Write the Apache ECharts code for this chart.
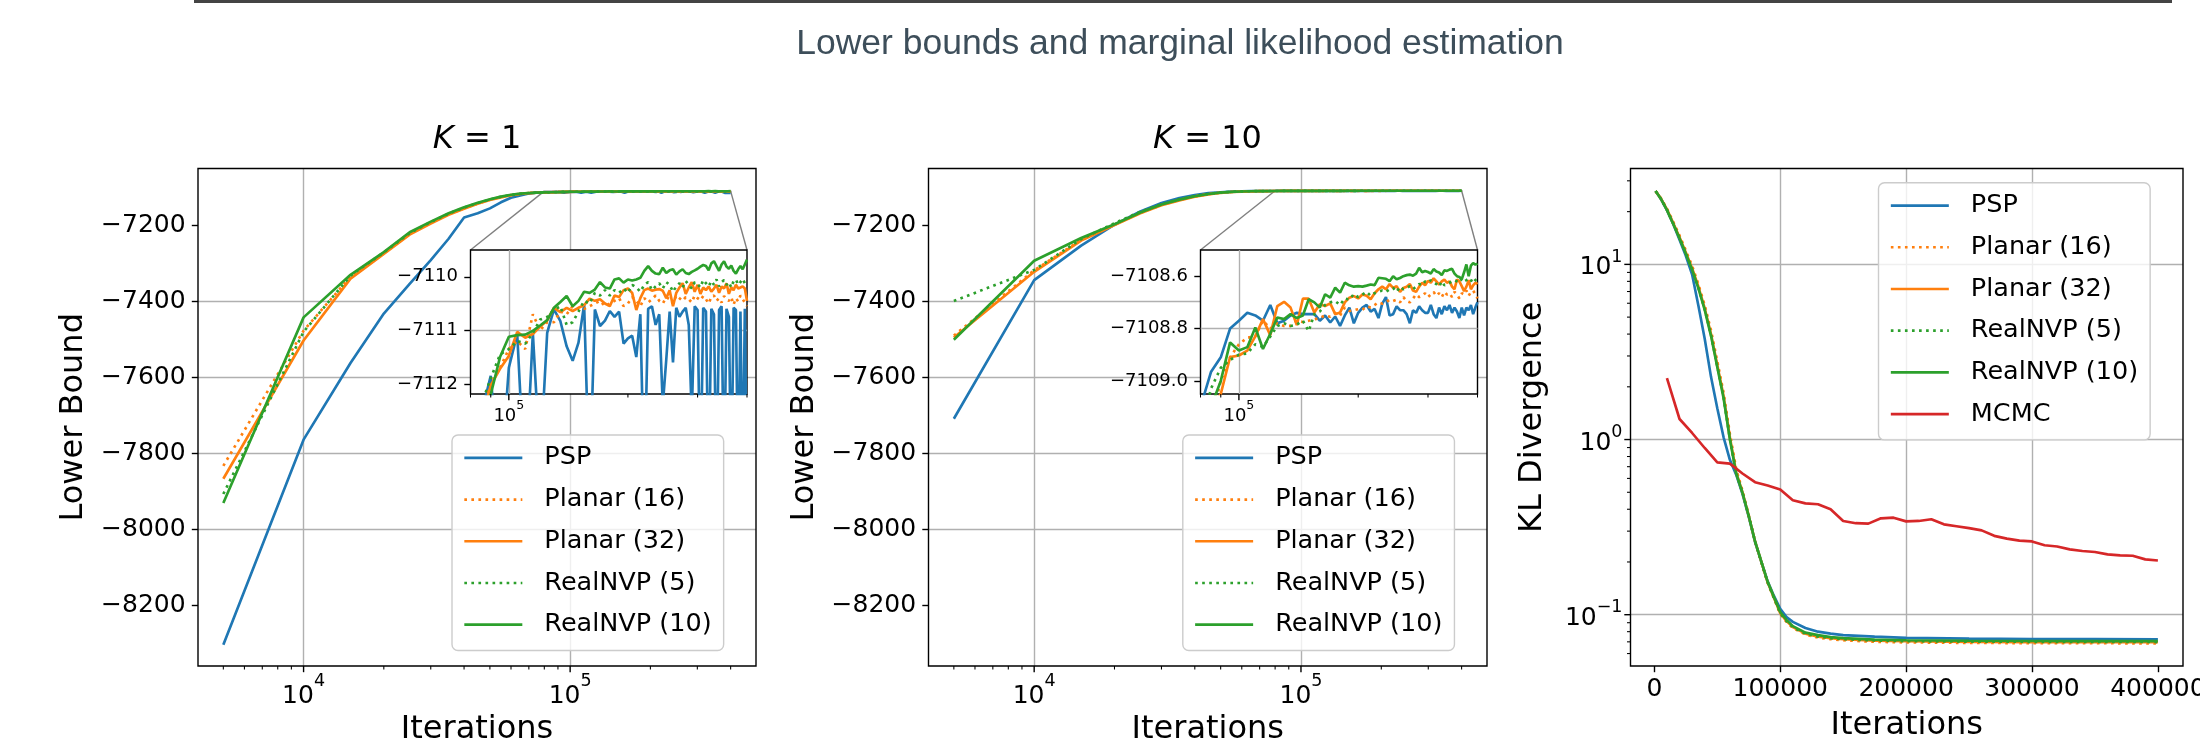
<!DOCTYPE html>
<html>
<head>
<meta charset="utf-8">
<script src="https://cdn.jsdelivr.net/npm/echarts@6/dist/echarts.min.js"></script>
<style>
html, body { margin: 0; padding: 0; background: #fff; }
#chart { width: 2200px; height: 743px; }
</style>
</head>
<body>
<div id="chart"></div>
<script>
// ---- data ----
const iters = [
  5000, 10000, 15000, 20000, 25000, 30000, 35000, 40000, 45000, 50000,
  55000, 60000, 65000, 70000, 75000, 80000, 85000, 90000, 95000, 100000,
  105000, 110000, 115000, 120000, 125000, 130000, 135000, 140000, 145000, 150000,
  155000, 160000, 165000, 170000, 175000, 180000, 185000, 190000, 195000, 200000,
  205000, 210000, 215000, 220000, 225000, 230000, 235000, 240000, 245000, 250000,
  255000, 260000, 265000, 270000, 275000, 280000, 285000, 290000, 295000, 300000,
  305000, 310000, 315000, 320000, 325000, 330000, 335000, 340000, 345000, 350000,
  355000, 360000, 365000, 370000, 375000, 380000, 385000, 390000, 395000, 400000
];

// K = 1
const k1PSP = [
  -8304, -7764, -7562, -7432, -7354, -7291, -7235, -7179, -7168, -7155,
  -7139, -7127, -7121, -7116, -7113, -7113.5, -7112.6, -7111.85, -7114.0, -7111.70,
  -7111.07, -7114.0, -7111.05, -7113.5, -7111.05, -7110.61, -7110.83, -7111.30, -7111.57, -7111.23,
  -7110.52, -7114.0, -7110.61, -7110.92, -7110.82, -7110.64, -7110.75, -7110.65, -7111.25, -7111.15,
  -7111.10, -7111.50, -7110.70, -7114.0, -7110.60, -7110.55, -7110.90, -7110.70, -7112.4, -7111.55,
  -7110.65, -7111.60, -7110.58, -7110.75, -7110.65, -7110.58, -7110.90, -7112.6, -7110.55, -7110.62,
  -7114.0, -7110.58, -7110.65, -7114.0, -7110.60, -7110.70, -7114.0, -7110.62, -7110.55, -7114.0,
  -7110.60, -7110.75, -7114.0, -7110.58, -7110.62, -7114.0, -7110.65, -7114.0, -7110.60, -7114.0
];
const k1Planar16 = [
  -7833, -7477, -7335, -7272, -7222, -7193, -7170, -7155, -7142, -7132,
  -7125, -7120, -7116.5, -7114.5, -7113.5, -7113.0, -7112.5, -7112.0, -7111.7, -7111.35,
  -7111.2, -7111.35, -7110.70, -7111.0, -7110.85, -7110.85, -7110.65, -7110.70, -7110.55, -7110.60,
  -7110.60, -7110.55, -7110.50, -7110.45, -7110.55, -7110.50, -7110.45, -7110.40, -7110.55, -7110.50,
  -7110.38, -7110.45, -7110.55, -7110.40, -7110.48, -7110.42, -7110.35, -7110.45, -7110.50, -7110.38,
  -7110.42, -7110.50, -7110.35, -7110.40, -7110.45, -7110.38, -7110.42, -7110.48, -7110.35, -7110.40,
  -7110.44, -7110.36, -7110.42, -7110.50, -7110.38, -7110.35, -7110.45, -7110.40, -7110.48, -7110.36,
  -7110.42, -7110.45, -7110.38, -7110.52, -7110.40, -7110.46, -7110.35, -7110.42, -7110.48, -7110.55
];
const k1Planar32 = [
  -7867, -7503, -7340, -7275, -7224, -7195, -7172, -7156, -7143, -7133,
  -7126, -7120.5, -7117, -7115, -7113.8, -7113.2, -7112.7, -7112.03, -7111.72, -7111.48,
  -7111.03, -7111.14, -7111.07, -7110.93, -7110.82, -7110.58, -7110.66, -7110.58, -7110.64, -7110.58,
  -7110.53, -7110.41, -7110.45, -7110.42, -7110.50, -7110.55, -7110.35, -7110.38, -7110.25, -7110.22,
  -7110.30, -7110.62, -7110.40, -7110.25, -7110.22, -7110.26, -7110.24, -7110.23, -7110.26, -7110.40,
  -7110.25, -7110.55, -7110.30, -7110.20, -7110.12, -7110.32, -7110.20, -7110.10, -7110.28, -7110.15,
  -7110.32, -7110.20, -7110.25, -7110.18, -7110.28, -7110.22, -7110.15, -7110.30, -7110.18, -7110.22,
  -7110.12, -7110.32, -7110.20, -7110.25, -7110.15, -7110.22, -7110.20, -7110.18, -7110.22, -7110.45
];
const k1NVP5 = [
  -7907, -7480, -7332, -7271, -7220, -7191, -7169, -7153, -7141, -7131.5,
  -7124.5, -7119.5, -7116.5, -7114.5, -7113.6, -7113.3, -7112.4, -7111.9, -7111.45, -7111.35,
  -7111.20, -7111.25, -7111.05, -7110.80, -7110.75, -7110.62, -7110.55, -7110.90, -7110.85, -7110.65,
  -7110.45, -7110.50, -7110.30, -7110.35, -7110.25, -7110.35, -7110.25, -7110.30, -7110.22, -7110.30,
  -7110.15, -7110.20, -7110.28, -7110.15, -7110.10, -7110.25, -7110.18, -7110.12, -7110.22, -7110.10,
  -7110.15, -7110.28, -7110.18, -7110.12, -7110.20, -7110.08, -7110.15, -7110.22, -7110.10, -7110.14,
  -7110.20, -7110.06, -7110.12, -7110.18, -7110.08, -7110.15, -7110.05, -7110.18, -7110.10, -7110.06,
  -7110.15, -7110.10, -7110.20, -7110.08, -7110.05, -7110.15, -7110.10, -7110.04, -7110.12, -7110.08
];
const k1NVP10 = [
  -7931, -7442, -7330, -7270, -7218, -7190, -7168, -7152, -7140, -7131,
  -7124, -7119, -7116, -7114.5, -7113.6, -7113.0, -7112.6, -7112.2, -7111.5, -7111.12,
  -7111.09, -7111.08, -7111.01, -7110.91, -7110.81, -7110.58, -7110.47, -7110.36, -7110.55, -7110.45,
  -7110.28, -7110.30, -7110.24, -7110.10, -7110.20, -7110.22, -7110.05, -7110.03, -7110.11, -7110.05,
  -7110.07, -7110.05, -7110.02, -7109.89, -7109.80, -7109.89, -7109.94, -7109.95, -7109.83, -7109.93,
  -7109.88, -7109.86, -7109.96, -7109.90, -7109.86, -7109.93, -7109.95, -7109.91, -7109.88, -7109.85,
  -7109.81, -7109.78, -7109.80, -7109.88, -7109.75, -7109.71, -7109.80, -7109.89, -7109.77, -7109.71,
  -7109.81, -7109.85, -7109.79, -7109.89, -7109.94, -7109.86, -7109.80, -7109.86, -7109.77, -7109.68
];

// K = 10
const k10PSP = [
  -7709, -7344, -7253, -7198, -7163, -7141, -7128, -7120, -7115, -7112.5,
  -7111, -7110.2, -7109.7, -7109.4, -7109.2, -7109.1, -7108.966, -7108.91, -7108.80, -7108.77,
  -7108.74, -7108.75, -7108.77, -7108.71, -7108.78, -7108.77, -7108.75, -7108.74, -7108.745, -7108.745,
  -7108.745, -7108.77, -7108.75, -7108.777, -7108.754, -7108.79, -7108.75, -7108.72, -7108.78, -7108.74,
  -7108.72, -7108.71, -7108.735, -7108.725, -7108.76, -7108.705, -7108.68, -7108.75, -7108.745, -7108.715,
  -7108.73, -7108.73, -7108.745, -7108.78, -7108.73, -7108.74, -7108.715, -7108.73, -7108.74, -7108.74,
  -7108.71, -7108.745, -7108.76, -7108.72, -7108.745, -7108.715, -7108.73, -7108.71, -7108.74, -7108.72,
  -7108.735, -7108.76, -7108.72, -7108.75, -7108.72, -7108.73, -7108.71, -7108.745, -7108.72, -7108.70
];
const k10Planar16 = [
  -7490, -7318, -7238, -7198, -7167, -7146, -7133, -7123.5, -7117.5, -7113.8,
  -7111.8, -7110.7, -7110.0, -7109.65, -7109.45, -7109.3, -7109.15, -7109.0, -7108.91, -7108.86,
  -7108.835, -7108.83, -7108.77, -7108.80, -7108.78, -7108.79, -7108.79, -7108.77, -7108.775, -7108.77,
  -7108.765, -7108.76, -7108.75, -7108.755, -7108.74, -7108.75, -7108.72, -7108.733, -7108.73, -7108.726,
  -7108.728, -7108.715, -7108.72, -7108.71, -7108.70, -7108.705, -7108.70, -7108.69, -7108.695, -7108.69,
  -7108.70, -7108.68, -7108.695, -7108.70, -7108.685, -7108.67, -7108.68, -7108.675, -7108.665, -7108.68,
  -7108.67, -7108.66, -7108.675, -7108.665, -7108.68, -7108.66, -7108.67, -7108.665, -7108.68, -7108.66,
  -7108.67, -7108.685, -7108.665, -7108.67, -7108.655, -7108.675, -7108.66, -7108.655, -7108.668, -7108.685
];
const k10Planar32 = [
  -7495, -7322, -7240, -7199, -7168, -7147, -7134, -7124, -7118, -7114,
  -7112, -7110.8, -7110.1, -7109.7, -7109.45, -7109.25, -7109.10, -7109.05, -7108.909, -7108.903,
  -7108.884, -7108.83, -7108.764, -7108.825, -7108.714, -7108.698, -7108.72, -7108.787, -7108.686, -7108.686,
  -7108.739, -7108.707, -7108.714, -7108.704, -7108.745, -7108.739, -7108.70, -7108.682, -7108.676, -7108.685,
  -7108.67, -7108.675, -7108.688, -7108.665, -7108.65, -7108.64, -7108.65, -7108.63, -7108.645, -7108.638,
  -7108.66, -7108.645, -7108.64, -7108.63, -7108.655, -7108.66, -7108.64, -7108.625, -7108.635, -7108.618,
  -7108.625, -7108.608, -7108.62, -7108.632, -7108.62, -7108.613, -7108.625, -7108.62, -7108.64, -7108.65,
  -7108.613, -7108.62, -7108.638, -7108.657, -7108.64, -7108.615, -7108.65, -7108.635, -7108.625, -7108.63
];
const k10NVP5 = [
  -7399, -7317, -7236, -7194, -7164, -7144, -7131, -7122.5, -7116.8, -7113.3,
  -7111.4, -7110.4, -7109.8, -7109.5, -7109.35, -7109.2, -7109.03, -7108.95, -7108.92, -7108.9,
  -7108.895, -7108.86, -7108.87, -7108.83, -7108.79, -7108.78, -7108.79, -7108.785, -7108.77, -7108.81,
  -7108.745, -7108.735, -7108.71, -7108.70, -7108.695, -7108.71, -7108.685, -7108.69, -7108.668, -7108.68,
  -7108.67, -7108.66, -7108.675, -7108.665, -7108.66, -7108.655, -7108.66, -7108.65, -7108.645, -7108.66,
  -7108.64, -7108.65, -7108.645, -7108.638, -7108.65, -7108.64, -7108.63, -7108.635, -7108.62, -7108.625,
  -7108.615, -7108.625, -7108.63, -7108.64, -7108.62, -7108.635, -7108.63, -7108.625, -7108.62, -7108.615,
  -7108.62, -7108.625, -7108.61, -7108.62, -7108.615, -7108.61, -7108.62, -7108.605, -7108.615, -7108.62
];
const k10NVP10 = [
  -7501, -7293, -7233, -7197, -7166, -7145, -7132, -7123, -7117, -7113.5,
  -7111.6, -7110.6, -7110.0, -7109.7, -7109.5, -7109.3, -7109.10, -7109.00, -7108.853, -7108.884,
  -7108.871, -7108.796, -7108.878, -7108.82, -7108.758, -7108.764, -7108.745, -7108.76, -7108.75, -7108.688,
  -7108.70, -7108.72, -7108.669, -7108.682, -7108.644, -7108.663, -7108.625, -7108.635, -7108.64, -7108.638,
  -7108.64, -7108.636, -7108.632, -7108.634, -7108.606, -7108.608, -7108.61, -7108.619, -7108.60, -7108.612,
  -7108.607, -7108.60, -7108.596, -7108.594, -7108.598, -7108.59, -7108.568, -7108.585, -7108.58, -7108.584,
  -7108.59, -7108.573, -7108.582, -7108.586, -7108.596, -7108.578, -7108.58, -7108.575, -7108.572, -7108.59,
  -7108.60, -7108.603, -7108.612, -7108.585, -7108.555, -7108.60, -7108.56, -7108.55, -7108.556, -7108.552
];

// KL divergence
const klIters = [
  1000, 5000, 10000, 15000, 20000, 25000, 30000, 35000, 40000, 45000, 50000,
  55000, 60000, 65000, 70000, 75000, 80000, 85000, 90000, 95000, 100000,
  105000, 110000, 120000, 130000, 140000, 150000, 175000, 200000, 250000, 300000, 350000, 400000
];
const klPSP = [
  26.2, 23.8, 20.4, 17.0, 13.8, 11.2, 8.75, 5.8, 3.76, 2.28, 1.51,
  1.03, 0.766, 0.63, 0.49, 0.362, 0.26, 0.2, 0.155, 0.128, 0.108,
  0.097, 0.091, 0.084, 0.080, 0.078, 0.0765, 0.075, 0.0738, 0.073, 0.0726, 0.0725, 0.0724
];
const klPlanar16 = [
  26.2, 24.0, 20.8, 17.5, 14.6, 12.0, 9.8, 7.7, 5.85, 4.2, 2.8,
  1.85, 1.08, 0.68, 0.51, 0.37, 0.262, 0.199, 0.152, 0.124, 0.101,
  0.091, 0.084, 0.077, 0.074, 0.0725, 0.0715, 0.070, 0.0695, 0.069, 0.0688, 0.0687, 0.0686
];
const klPlanar32 = [
  26.2, 23.9, 20.6, 17.2, 14.3, 11.7, 9.5, 7.45, 5.62, 4.0, 2.66,
  1.77, 1.03, 0.65, 0.50, 0.366, 0.262, 0.2, 0.153, 0.125, 0.102,
  0.092, 0.085, 0.078, 0.075, 0.0735, 0.0725, 0.071, 0.0705, 0.070, 0.0698, 0.0697, 0.0696
];
const klNVP5 = [
  26.2, 23.8, 20.5, 17.1, 14.2, 11.6, 9.4, 7.35, 5.55, 3.95, 2.62,
  1.74, 1.01, 0.645, 0.498, 0.366, 0.262, 0.2, 0.153, 0.125, 0.102,
  0.092, 0.085, 0.078, 0.075, 0.0735, 0.0725, 0.0712, 0.0706, 0.0702, 0.07, 0.0699, 0.0698
];
const klNVP10 = [
  26.2, 23.8, 20.4, 17.0, 14.1, 11.5, 9.33, 7.29, 5.50, 3.91, 2.59,
  1.72, 1.0, 0.641, 0.497, 0.366, 0.262, 0.201, 0.154, 0.126, 0.1035,
  0.0935, 0.086, 0.079, 0.0765, 0.0745, 0.0735, 0.072, 0.0715, 0.071, 0.0708, 0.0707, 0.0706
];
const mcmcIters = [
  10000, 20000, 30000, 40000, 50000, 60000, 70000, 80000, 90000, 100000,
  110000, 120000, 130000, 140000, 150000, 160000, 170000, 180000, 190000, 200000,
  210000, 220000, 230000, 240000, 250000, 260000, 270000, 280000, 290000, 300000,
  310000, 320000, 330000, 340000, 350000, 360000, 370000, 380000, 390000, 400000
];
const klMCMC = [
  2.24, 1.31, 1.09, 0.895, 0.741, 0.729, 0.64, 0.571, 0.547, 0.519,
  0.45, 0.432, 0.427, 0.40, 0.343, 0.333, 0.331, 0.355, 0.358, 0.341,
  0.343, 0.351, 0.328, 0.320, 0.312, 0.303, 0.282, 0.272, 0.265, 0.262,
  0.249, 0.245, 0.236, 0.231, 0.228, 0.221, 0.218, 0.217, 0.207, 0.204
];

// axis limits and ticks
const lbRange = [-8360, -7050];
const lbTicks = [-8200, -8000, -7800, -7600, -7400, -7200];
const iterLogRange = [4017.5, 498000];
const insetIterRange = [80000, 400000];
const inset1Range = [-7112.19, -7109.5];
const inset1Ticks = [-7112, -7111, -7110];
const inset2Range = [-7109.05, -7108.5];
const inset2Ticks = [-7109.0, -7108.8, -7108.6];
const klIterRange = [-18950, 419950];
const klIterTicks = [0, 100000, 200000, 300000, 400000];
const klRange = [0.05095, 35.27];
const mainMajorX = [10000, 100000];
const mainMinorX = [5000, 6000, 7000, 8000, 9000, 20000, 30000, 40000, 50000, 60000, 70000, 80000, 90000, 200000, 300000, 400000];
const insetMajorX = [100000];
const insetMinorX = [80000, 90000, 200000, 300000, 400000];
const klMajorY = [0.1, 1, 10];
const klMinorY = [0.06, 0.07, 0.08, 0.09, 0.2, 0.3, 0.4, 0.5, 0.6, 0.7, 0.8, 0.9, 2, 3, 4, 5, 6, 7, 8, 9, 20, 30];

const names = ['PSP', 'Planar (16)', 'Planar (32)', 'RealNVP (5)', 'RealNVP (10)'];

// ---- styling ----
const FONT = 'DejaVu Sans';
const BLUE = '#1f77b4', ORANGE = '#ff7f0e', GREEN = '#2ca02c', RED = '#d62728';
const GRIDC = '#b0b0b0';
const LW = 2.65;
const DOT = [2.65, 4.4];
const styles = [
  { color: BLUE, type: 'solid' },
  { color: ORANGE, type: DOT },
  { color: ORANGE, type: 'solid' },
  { color: GREEN, type: DOT },
  { color: GREEN, type: 'solid' }
];

function pairs(xs, ys) {
  return xs.map(function (x, i) { return [x, ys[i]]; });
}
function minus(v) {
  return String(v).replace('-', '\u2212');
}
function minus1(v) {
  return v.toFixed(1).replace('-', '\u2212');
}
function powLabel(v) {
  const e = Math.round(Math.log10(v));
  return '{b|10}{s|' + (e < 0 ? '\u2212' + (-e) : e) + '}';
}
function richPow(base, sup, lh, slh) {
  return {
    b: { fontSize: base, fontFamily: FONT, color: '#000', lineHeight: lh, verticalAlign: 'bottom' },
    s: { fontSize: sup, fontFamily: FONT, color: '#000', lineHeight: slh, verticalAlign: 'top' }
  };
}
const nameStyle = { fontSize: 32, fontFamily: FONT, color: '#000' };
const splitStyle = { show: true, showMinLine: false, showMaxLine: false, lineStyle: { color: GRIDC, width: 1.4 } };
const tickStyle = { show: true, inside: false, length: 6.2, lineStyle: { color: '#000', width: 1.4 } };

function mainGrid(left, width) {
  return { left: left, top: 168.5, width: width, height: 497.5, show: true, borderColor: '#000', borderWidth: 1.4,
           backgroundColor: 'transparent', z: 1, containLabel: false, outerBoundsMode: 'none' };
}
function insetGrid(left, width) {
  return { left: left, top: 250, width: width, height: 144, show: true, borderColor: '#000', borderWidth: 1.4,
           backgroundColor: '#fff', z: 3, containLabel: false, outerBoundsMode: 'none' };
}

function logIterAxis(gi) {
  return {
    type: 'log', gridIndex: gi, logBase: 10, min: iterLogRange[0], max: iterLogRange[1],
    name: 'Iterations', nameLocation: 'middle', nameGap: 43.6, nameTextStyle: nameStyle,
    axisLine: { show: false }, axisTick: { show: false }, splitLine: splitStyle,
    axisLabel: { showMinLabel: false, showMaxLabel: false, margin: 6.6, formatter: powLabel, rich: richPow(25, 17.5, 36, 18) }
  };
}
function insetIterAxis(gi) {
  return {
    type: 'log', gridIndex: gi, logBase: 10, min: insetIterRange[0], max: insetIterRange[1], z: 4,
    axisLine: { show: false }, axisTick: { show: false }, splitLine: splitStyle,
    axisLabel: { showMinLabel: false, showMaxLabel: false, margin: 5, formatter: powLabel, rich: richPow(18, 12.6, 26, 13) }
  };
}
function lbAxis(gi) {
  return {
    type: 'value', gridIndex: gi, min: lbRange[0], max: lbRange[1],
    name: 'Lower Bound', nameLocation: 'middle', nameGap: 108, nameTextStyle: nameStyle,
    axisLine: { show: false },
    axisTick: Object.assign({ customValues: lbTicks }, tickStyle),
    axisLabel: { customValues: lbTicks, formatter: minus, fontSize: 25, fontFamily: FONT, color: '#000', margin: 12.4 },
    splitLine: splitStyle
  };
}
function insetLbAxis(gi, range, ticks, fmt) {
  return {
    type: 'value', gridIndex: gi, min: range[0], max: range[1], z: 4,
    axisLine: { show: false },
    axisTick: Object.assign({ customValues: ticks }, tickStyle),
    axisLabel: { customValues: ticks, formatter: fmt, fontSize: 18, fontFamily: FONT, color: '#000', margin: 12.5 },
    splitLine: splitStyle
  };
}

// tick marks on log axes, drawn through the axis scale
function xTicks(xi, yi, vals, yAt, len, w) {
  return {
    type: 'custom', xAxisIndex: xi, yAxisIndex: yi, silent: true, z: 6, clip: false,
    data: vals.map(function (v) { return [v, yAt]; }),
    renderItem: function (params, api) {
      const p = api.coord([api.value(0), api.value(1)]);
      return { type: 'line', shape: { x1: p[0], y1: p[1], x2: p[0], y2: p[1] + len }, style: { stroke: '#000', lineWidth: w } };
    }
  };
}
function yTicks(xi, yi, vals, xAt, len, w) {
  return {
    type: 'custom', xAxisIndex: xi, yAxisIndex: yi, silent: true, z: 6, clip: false,
    data: vals.map(function (v) { return [xAt, v]; }),
    renderItem: function (params, api) {
      const p = api.coord([api.value(0), api.value(1)]);
      return { type: 'line', shape: { x1: p[0], y1: p[1], x2: p[0] - len, y2: p[1] }, style: { stroke: '#000', lineWidth: w } };
    }
  };
}

function lineSeries(name, xi, yi, data, st, z) {
  return {
    name: name, type: 'line', xAxisIndex: xi, yAxisIndex: yi, data: data,
    symbol: 'none', showSymbol: false, clip: true, z: z, silent: true,
    lineStyle: { color: st.color, width: LW, type: st.type, cap: 'butt' },
    itemStyle: { color: st.color }
  };
}

const k1Sets = [k1PSP, k1Planar16, k1Planar32, k1NVP5, k1NVP10];
const k10Sets = [k10PSP, k10Planar16, k10Planar32, k10NVP5, k10NVP10];
const klSets = [klPSP, klPlanar16, klPlanar32, klNVP5, klNVP10];

const series = [];
for (let i = 0; i < names.length; i++) {
  series.push(lineSeries(names[i], 0, 0, pairs(iters, k1Sets[i]), styles[i], 2));
  series.push(lineSeries(names[i], 1, 1, pairs(iters, k1Sets[i]), styles[i], 5));
  series.push(lineSeries(names[i], 2, 2, pairs(iters, k10Sets[i]), styles[i], 2));
  series.push(lineSeries(names[i], 3, 3, pairs(iters, k10Sets[i]), styles[i], 5));
  series.push(lineSeries(names[i], 4, 4, pairs(klIters, klSets[i]), styles[i], 2));
}
series.push(lineSeries('MCMC', 4, 4, pairs(mcmcIters, klMCMC), { color: RED, type: 'solid' }, 2));

series.push(xTicks(0, 0, mainMajorX, lbRange[0], 6.2, 1.4));
series.push(xTicks(0, 0, mainMinorX, lbRange[0], 3.5, 1.06));
series.push(xTicks(2, 2, mainMajorX, lbRange[0], 6.2, 1.4));
series.push(xTicks(2, 2, mainMinorX, lbRange[0], 3.5, 1.06));
series.push(xTicks(1, 1, insetMajorX, inset1Range[0], 6.2, 1.4));
series.push(xTicks(1, 1, insetMinorX, inset1Range[0], 3.5, 1.06));
series.push(xTicks(3, 3, insetMajorX, inset2Range[0], 6.2, 1.4));
series.push(xTicks(3, 3, insetMinorX, inset2Range[0], 3.5, 1.06));
series.push(yTicks(4, 4, klMajorY, klIterRange[0], 6.2, 1.4));
series.push(yTicks(4, 4, klMinorY, klIterRange[0], 3.5, 1.06));

function legendAt(left, top, data) {
  return {
    data: data, orient: 'vertical', left: left, top: top, selectedMode: false,
    itemWidth: 58, itemHeight: 14, itemGap: 0,
    itemStyle: { opacity: 0 },
    lineStyle: { width: LW, color: 'inherit', type: 'inherit' },
    padding: [2, 12, 5, 11],
    backgroundColor: 'rgba(255,255,255,0.8)', borderColor: '#cccccc', borderWidth: 1.4, borderRadius: 6,
    textStyle: { fontSize: 25.5, fontFamily: FONT, color: '#000', lineHeight: 41.7, padding: [0, 0, 0, 17] }
  };
}

const option = {
  animation: false,
  backgroundColor: '#fff',
  textStyle: { fontFamily: FONT },
  grid: [
    mainGrid(198, 558), insetGrid(470.5, 276.5),
    mainGrid(928.5, 558.5), insetGrid(1200.5, 277),
    mainGrid(1630.5, 552.5)
  ],
  xAxis: [
    logIterAxis(0), insetIterAxis(1), logIterAxis(2), insetIterAxis(3),
    {
      type: 'value', gridIndex: 4, min: klIterRange[0], max: klIterRange[1],
      name: 'Iterations', nameLocation: 'middle', nameGap: 43.6, nameTextStyle: nameStyle,
      axisLine: { show: false },
      axisTick: Object.assign({ customValues: klIterTicks }, tickStyle),
      axisLabel: { customValues: klIterTicks, formatter: function (v) { return String(v); }, fontSize: 25, fontFamily: FONT, color: '#000', margin: 10.5 },
      splitLine: splitStyle
    }
  ],
  yAxis: [
    lbAxis(0), insetLbAxis(1, inset1Range, inset1Ticks, minus),
    lbAxis(2), insetLbAxis(3, inset2Range, inset2Ticks, minus1),
    {
      type: 'log', gridIndex: 4, logBase: 10, min: klRange[0], max: klRange[1],
      name: 'KL Divergence', nameLocation: 'middle', nameGap: 81.5, nameTextStyle: nameStyle,
      axisLine: { show: false }, axisTick: { show: false }, splitLine: splitStyle,
      axisLabel: { showMinLabel: false, showMaxLabel: false, margin: 8, formatter: powLabel, rich: richPow(25, 17.5, 32, 18) }
    }
  ],
  legend: [
    legendAt(452, 435, names),
    legendAt(1182.8, 435, names),
    legendAt(1878.5, 182.7, names.concat(['MCMC']))
  ],
  series: series,
  graphic: [
    { type: 'rect', shape: { x: 194, y: 0, width: 1978, height: 3 }, style: { fill: '#444' } },
    { type: 'text', x: 1180, y: 44, style: { text: 'Lower bounds and marginal likelihood estimation', font: '35.5px "Liberation Sans"',
      fill: '#3d4e5a', align: 'center', verticalAlign: 'middle', textAlign: 'center', textVerticalAlign: 'middle' } },
    { type: 'text', x: 477, y: 140, style: { text: '{i|K} = 1', font: '32px "DejaVu Sans"', fill: '#000',
      rich: { i: { fontStyle: 'italic', fontSize: 32, fontFamily: FONT } },
      align: 'center', verticalAlign: 'middle', textAlign: 'center', textVerticalAlign: 'middle' } },
    { type: 'text', x: 1207.5, y: 140, style: { text: '{i|K} = 10', font: '32px "DejaVu Sans"', fill: '#000',
      rich: { i: { fontStyle: 'italic', fontSize: 32, fontFamily: FONT } },
      align: 'center', verticalAlign: 'middle', textAlign: 'center', textVerticalAlign: 'middle' } }
  ]
};

const chart = echarts.init(document.getElementById('chart'), null, { renderer: 'canvas' });
chart.setOption(option);

// zoom indicator: box in the main axes and two connectors to the inset corners
function insetMarks(mainIdx, insetIdx, yr) {
  const tl = chart.convertToPixel({ gridIndex: mainIdx }, [insetIterRange[0], yr[1]]);
  const tr = chart.convertToPixel({ gridIndex: mainIdx }, [insetIterRange[1], yr[1]]);
  const br = chart.convertToPixel({ gridIndex: mainIdx }, [insetIterRange[1], yr[0]]);
  const bl = chart.convertToPixel({ gridIndex: mainIdx }, [insetIterRange[0], yr[0]]);
  const itl = chart.convertToPixel({ gridIndex: insetIdx }, [insetIterRange[0], yr[1]]);
  const itr = chart.convertToPixel({ gridIndex: insetIdx }, [insetIterRange[1], yr[1]]);
  const st = { stroke: '#808080', lineWidth: 1.4, fill: null };
  return [
    { type: 'polygon', z: 1, shape: { points: [tl, tr, br, bl] }, style: st },
    { type: 'line', z: 1, shape: { x1: tl[0], y1: tl[1], x2: itl[0], y2: itl[1] }, style: st },
    { type: 'line', z: 1, shape: { x1: tr[0], y1: tr[1], x2: itr[0], y2: itr[1] }, style: st }
  ];
}
chart.setOption({ graphic: option.graphic.concat(insetMarks(0, 1, inset1Range), insetMarks(2, 3, inset2Range)) });
</script>
</body>
</html>
